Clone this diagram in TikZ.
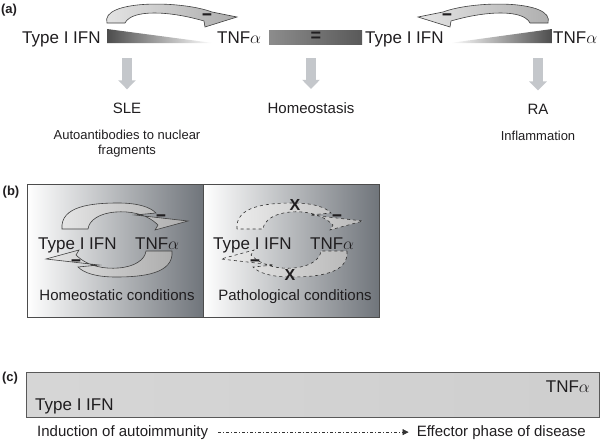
\documentclass[tikz,border=0pt]{standalone}
\usepackage{fontspec}
\usepackage{graphicx}
\setmainfont{Liberation Sans}
\usetikzlibrary{arrows.meta, positioning, calc}
\definecolor{boxdark}{RGB}{112,117,123}
\definecolor{txt}{RGB}{32,30,32}
\definecolor{arrowgray}{RGB}{196,199,203}

\tikzset{
  big/.style={font=\fontsize{17}{20}\selectfont, inner sep=0pt, text=txt},
  mid/.style={font=\fontsize{15}{18}\selectfont, inner sep=0pt, text=txt},
  small/.style={font=\fontsize{13}{15}\selectfont, inner sep=0pt, text=txt},
  panel/.style={font=\bfseries\fontsize{13}{15}\selectfont, inner sep=0pt, text=txt},
  minus/.style={font=\bfseries\fontsize{18}{20}\selectfont, inner sep=0pt, text=txt},
  downarr/.style={line width=10pt, draw=arrowgray, shorten >=13pt,
    -{Triangle[length=9pt, width=17pt]}},
  bendarrow/.style={draw=black!75, line width=0.6pt, left color=gray!20, right color=gray!65},
  brokenarrow/.style={draw=black!80, line width=0.6pt, dashed, left color=gray!15, right color=gray!55},
}
\newcommand{\minussign}{\scalebox{1.9}[1]{-}}

\begin{document}
\begin{tikzpicture}[x=1pt, y=-1pt]
  \useasboundingbox (0,0) rectangle (600,442);

  % ---------- panel (a) ----------
  \node[panel] (pa) at (9,10) {(a)};

  \node[big, anchor=base west] (ifnA) at (22,43) {Type I IFN};
  \node[big, anchor=base west] (tnfA) at (217,43) {TNF$\alpha$};
  \node[big, anchor=base west] (ifnB) at (365,43) {Type I IFN};
  \node[big, anchor=base west] (tnfB) at (553,43) {TNF$\alpha$};

  % wedges and the balance bar
  \shade[left color=black!70, right color=white] (107,29) -- (213,43) -- (107,43) -- cycle;
  \shade[left color=black!45, middle color=gray!12, right color=black!65] (269,30) rectangle (362,44);
  \node[minus] (eq) at (316,37) {=};
  \shade[left color=white, right color=black!70] (450,43) -- (552,29) -- (552,43) -- cycle;

  % curved inhibition arrows
  \shadedraw[bendarrow] (107,23) .. controls (100,0) and (180,0) .. (212,12) -- (237,17)
    -- (205,27) -- (204,21) .. controls (170,11) and (132,9) .. (125,23) -- cycle;
  \node[minus] at (207,17) {\minussign};
  \begin{scope}[shift={(655,0)}, xscale=-1]
    \shadedraw[bendarrow] (107,23) .. controls (100,0) and (180,0) .. (212,12) -- (237,17)
      -- (205,27) -- (204,21) .. controls (170,11) and (132,9) .. (125,23) -- cycle;
  \end{scope}
  \node[minus] at (447,17) {\minussign};

  % outcomes
  \node[mid, anchor=base] (sle) at (127,113) {SLE};
  \node[mid, anchor=base] (homeo) at (311,113) {Homeostasis};
  \node[mid, anchor=base] (ra) at (538,114) {RA};
  \node[small, anchor=north, align=center] (auto) at (127,130) {Autoantibodies to nuclear\\fragments};
  \node[small, anchor=base] (infl) at (538,140) {Inflammation};

  \coordinate (sleIn) at (127,58);
  \coordinate (homeoIn) at (311,58);
  \coordinate (raIn) at (538,58);
  \draw[downarr] (sleIn) -- (sle.north);
  \draw[downarr] (homeoIn) -- (homeo.north);
  \draw[downarr] (raIn) -- (ra.north);

  % ---------- panel (b) ----------
  \node[panel] (pb) at (11,192) {(b)};
  \shadedraw[left color=white, right color=boxdark, draw=black!70, line width=0.8pt]
    (27,184) rectangle (203,317);
  \shadedraw[left color=white, right color=boxdark, draw=black!70, line width=0.8pt]
    (203,184) rectangle (379,317);

  % homeostatic loop
  \shadedraw[bendarrow] (62,229) .. controls (60,206) and (92,203) .. (118,203)
    .. controls (138,203) and (150,207) .. (156,213) -- (135,215) -- (188,221) -- (155,230)
    -- (158,225) .. controls (146,213) and (128,211) .. (116,212)
    .. controls (100,213) and (89,220) .. (88,229) -- cycle;
  \begin{scope}[rotate around={180:(117,240)}]
    \shadedraw[bendarrow] (62,229) .. controls (60,206) and (92,203) .. (118,203)
      .. controls (138,203) and (150,207) .. (156,213) -- (135,215) -- (188,221) -- (155,230)
      -- (158,225) .. controls (146,213) and (128,211) .. (116,212)
      .. controls (100,213) and (89,220) .. (88,229) -- cycle;
  \end{scope}
  \node[minus] at (161,218) {\minussign};
  \node[minus] at (76,263) {\minussign};

  \node[big, anchor=base west] (ifnH) at (38,249) {Type I IFN};
  \node[big, anchor=base west] (tnfH) at (135,249) {TNF$\alpha$};
  \node[mid, anchor=base] (homeoCond) at (117,300) {Homeostatic conditions};

  % pathological loop, broken
  \begin{scope}[shift={(175,0)}]
    \shadedraw[brokenarrow] (62,229) .. controls (60,206) and (92,203) .. (118,203)
      .. controls (138,203) and (150,207) .. (156,213) -- (135,215) -- (188,221) -- (155,230)
      -- (158,225) .. controls (146,213) and (128,211) .. (116,212)
      .. controls (100,213) and (89,220) .. (88,229) -- cycle;
    \begin{scope}[rotate around={180:(117,240)}]
      \shadedraw[brokenarrow] (62,229) .. controls (60,206) and (92,203) .. (118,203)
        .. controls (138,203) and (150,207) .. (156,213) -- (135,215) -- (188,221) -- (155,230)
        -- (158,225) .. controls (146,213) and (128,211) .. (116,212)
        .. controls (100,213) and (89,220) .. (88,229) -- cycle;
    \end{scope}
  \end{scope}
  \node[minus] at (337,218) {\minussign};
  \node[minus] at (255,263) {\minussign};
  \node[font=\bfseries\fontsize{16}{18}\selectfont, inner sep=0pt, text=txt] (cutTop) at (295,205) {X};
  \node[font=\bfseries\fontsize{16}{18}\selectfont, inner sep=0pt, text=txt] (cutBot) at (290,275) {X};

  \node[big, anchor=base west] (ifnP) at (213,249) {Type I IFN};
  \node[big, anchor=base west] (tnfP) at (310,249) {TNF$\alpha$};
  \node[mid, anchor=base] (pathCond) at (295,300) {Pathological conditions};

  % ---------- panel (c) ----------
  \node[panel] (pc) at (10,378) {(c)};
  \shadedraw[left color=gray!32, middle color=gray!12, right color=gray!38, draw=black!65, line width=0.8pt]
    (26,372) rectangle (599.5,417);
  \node[big, anchor=base west] (ifnC) at (35,410) {Type I IFN};
  \node[big, anchor=base east] (tnfC) at (590,392) {TNF$\alpha$};

  \node[mid, anchor=base west] (induct) at (37,436) {Induction of autoimmunity};
  \node[mid, anchor=base east] (effect) at (586,436) {Effector phase of disease};
  \draw[black!80, line width=0.7pt, dash pattern=on 3pt off 2pt on 1pt off 2pt,
    -{Triangle[length=6pt, width=6pt]}, shorten <=10pt, shorten >=8pt] (induct.east) -- (effect.west);
\end{tikzpicture}
\end{document}
